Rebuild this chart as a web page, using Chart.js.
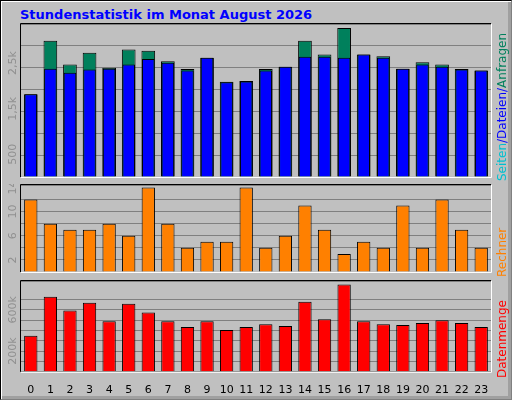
<!DOCTYPE html>
<html><head><meta charset="utf-8">
<script src="https://cdn.jsdelivr.net/npm/chart.js@4"></script>
<style>
body{margin:0;background:#fff}
#wrap{position:absolute;left:0;top:0;width:510px;height:398px;background:#c0c0c0;border-left:1px solid #000;border-top:1px solid #000;border-right:1px solid #808080;border-bottom:1px solid #808080;box-shadow:inset 1px 1px 0 #fff,inset -3px -3px 0 #a0a0a0;overflow:hidden;font-family:"DejaVu Sans",sans-serif}
canvas{position:absolute;left:0}
.t{position:absolute;font-weight:bold;color:#0000ff;font-size:13px;left:19px;top:6px}
.r{position:absolute;font-size:12px;white-space:nowrap;transform-origin:0 0;transform:rotate(-90deg)}
</style></head><body>
<div id="wrap">
<div class="t">Stundenstatistik im Monat August 2026</div>
<canvas id="c1"></canvas><canvas id="c2"></canvas><canvas id="c3"></canvas>
<div class="r" style="left:494px;top:180px"><span style="color:#00c0d0">Seiten</span><span style="color:#0000ff">/Dateien/</span><span style="color:#00805c">Anfragen</span></div>
<div class="r" style="left:494px;top:276px;color:#ff8000">Rechner</div>
<div class="r" style="left:494px;top:377px;color:#ff0000">Datenmenge</div>
</div>
<script>
const hours=["0","1","2","3","4","5","6","7","8","9","10","11","12","13","14","15","16","17","18","19","20","21","22","23"];
const anfragen=[1820,2990,2470,2730,2400,2800,2770,2540,2370,2620,2090,2110,2370,2420,2990,2690,3270,2690,2650,2380,2520,2470,2370,2340];
const dateien=[1820,2380,2290,2360,2380,2470,2590,2510,2340,2620,2080,2100,2340,2420,2640,2640,2620,2690,2620,2380,2470,2420,2360,2340];
const rechner=[12,8,7,7,8,6,14,8,4,5,5,14,4,6,11,7,3,5,4,11,4,12,7,4];
const datenmenge=[350,728,594,669,491,659,575,491,434,491,406,434,462,444,678,509,847,491,462,453,472,500,472,434];
const topLabels={500:"500",1500:"1,5k",2500:"2,5k"};
const midLabels={2:"2",6:"6",10:"10",14:"14"};
const botLabels={200:"200k",600:"600k"};

function frame(labels){return{id:'fr',afterDraw(ch){const c=ch.ctx,a=ch.chartArea,y=ch.scales.y;
 c.save();c.font='11px "DejaVu Sans"';c.fillStyle='#909090';c.textAlign='center';c.textBaseline='middle';
 for(const k in labels){const py=y.getPixelForValue(+k);c.save();c.translate(12,py);c.rotate(-Math.PI/2);c.fillText(labels[k],0,0);c.restore();}
 c.lineWidth=1;c.strokeStyle='#000';c.beginPath();c.moveTo(a.left-0.5,a.bottom);c.lineTo(a.left-0.5,a.top-0.5);c.lineTo(a.right,a.top-0.5);c.stroke();
 c.strokeStyle='#fff';c.beginPath();c.moveTo(a.right+0.5,a.top);c.lineTo(a.right+0.5,a.bottom+0.5);c.lineTo(a.left,a.bottom+0.5);c.stroke();c.restore();}}}
function bg(){return{id:'bg',beforeDraw(ch){const a=ch.chartArea,c=ch.ctx;c.fillStyle='#c0c0c0';c.fillRect(a.left,a.top,a.right-a.left,a.bottom-a.top);}}}
function make(id,top,h,datasets,max,step,labels,showX){
 const cv=document.getElementById(id);cv.style.top=top+'px';cv.width=510;cv.height=h;cv.style.width='510px';cv.style.height=h+'px';
 return new Chart(cv,{type:'bar',data:{labels:hours,datasets},
 options:{responsive:false,animation:false,devicePixelRatio:1,
  layout:{padding:{left:0,right:20,top:1,bottom:showX?0:1}},
  plugins:{legend:{display:false},tooltip:{enabled:false}},
  scales:{x:{grid:{display:false},border:{display:false},ticks:{display:showX,color:'#000',font:{family:'DejaVu Sans',size:11},maxRotation:0,autoSkip:false,padding:4}},
   y:{min:0,max:max,afterFit:s=>{s.width=20;},border:{display:false},grid:{color:'#808080',lineWidth:1,drawTicks:false},ticks:{display:false,stepSize:step}}}},
 plugins:[bg(),frame(labels)]});}
const bar={borderColor:'#000',borderWidth:1,categoryPercentage:1,grouped:false};
make('c1',22,163,[
 {...bar,data:dateien,backgroundColor:'#0000ff',barPercentage:0.64,order:0},
 {...bar,data:anfragen,backgroundColor:'#00805c',barPercentage:0.7,order:1}],3360,500,topLabels,false);
make('c2',183,97,[{...bar,data:rechner,backgroundColor:'#ff8000',barPercentage:0.68}],14.4,2,midLabels,false);
make('c3',279,121,[{...bar,data:datenmenge,backgroundColor:'#ff0000',barPercentage:0.68}],880,100,botLabels,true);
</script></body></html>
